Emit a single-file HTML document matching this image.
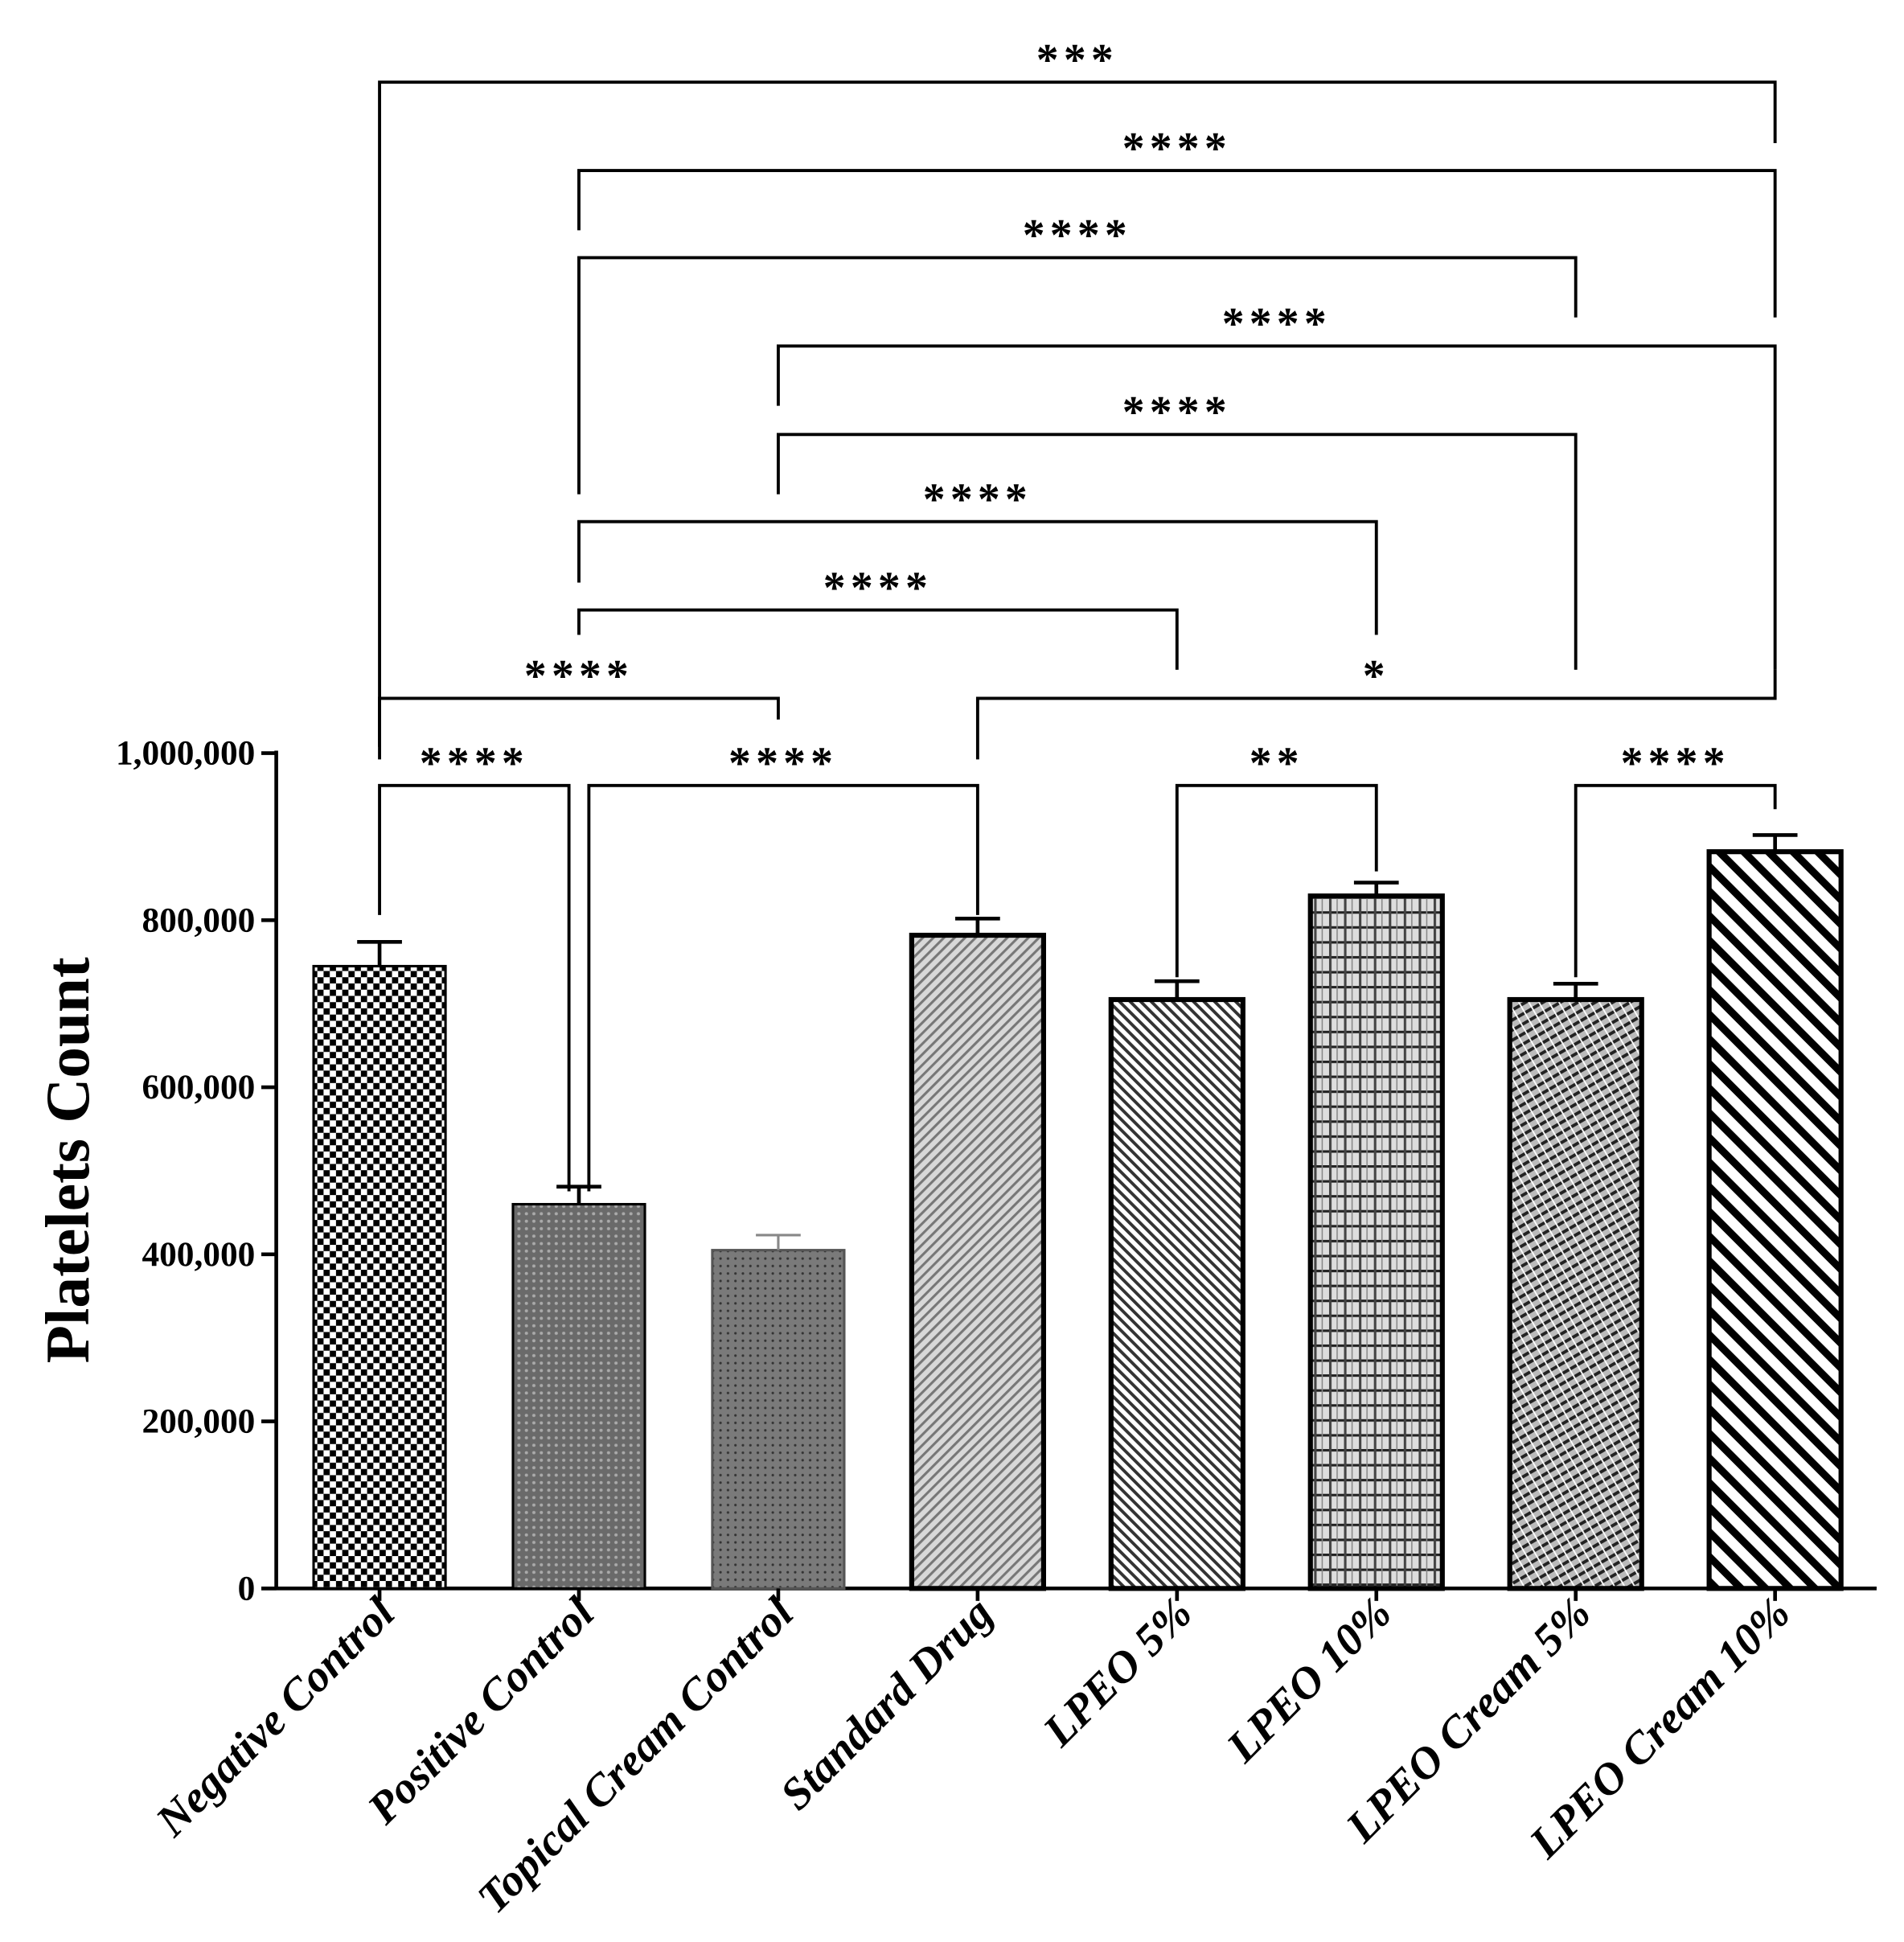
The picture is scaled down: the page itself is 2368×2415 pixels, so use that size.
<!DOCTYPE html>
<html><head><meta charset="utf-8"><style>
html,body{margin:0;padding:0;background:#fff}
svg{display:block}
text{font-family:"Liberation Serif",serif;font-weight:bold;fill:#000}
</style></head><body>
<svg id="chart" xmlns="http://www.w3.org/2000/svg" width="2368" height="2415" viewBox="0 0 1530 1560" preserveAspectRatio="none">
<defs>
<pattern id="p0" width="10" height="10" patternUnits="userSpaceOnUse"><rect width="10" height="10" fill="#fff"/><rect width="5" height="5" fill="#000"/><rect x="5" y="5" width="5" height="5" fill="#000"/></pattern>
<pattern id="p1" width="6" height="6" patternUnits="userSpaceOnUse"><rect width="6" height="6" fill="#6a6a6a"/><circle cx="3" cy="3" r="1.3" fill="#aaa"/></pattern>
<pattern id="p2" width="6" height="6" patternUnits="userSpaceOnUse"><rect width="6" height="6" fill="#7a7a7a"/><circle cx="3" cy="3" r="1" fill="#333"/></pattern>
<pattern id="p3" width="6" height="6" patternUnits="userSpaceOnUse" patternTransform="rotate(45)"><rect width="6" height="6" fill="#d8d8d8"/><rect width="2" height="6" fill="#777"/></pattern>
<pattern id="p4" width="6" height="6" patternUnits="userSpaceOnUse" patternTransform="rotate(-45)"><rect width="6" height="6" fill="#fff"/><rect width="2.5" height="6" fill="#333"/></pattern>
<pattern id="p5" width="12" height="12" patternUnits="userSpaceOnUse"><rect width="12" height="12" fill="#ddd"/><rect width="12" height="2" fill="#222"/><rect width="2" height="12" fill="#444"/><rect x="6" width="1" height="12" fill="#888"/></pattern>
<pattern id="p6" width="7" height="7" patternUnits="userSpaceOnUse" patternTransform="rotate(60)"><rect width="7" height="7" fill="#bbb"/><rect width="2.5" height="7" fill="#222"/><rect y="3" width="7" height="1.2" fill="#fff"/></pattern>
<pattern id="p7" width="14" height="14" patternUnits="userSpaceOnUse" patternTransform="rotate(-45)"><rect width="14" height="14" fill="#fff"/><rect width="6" height="14" fill="#000"/></pattern>
</defs>
<g id="plot"></g>
</svg>
<script>
const categories = ["Negative Control","Positive Control","Topical  Cream Control","Standard Drug","LPEO 5%","LPEO 10%","LPEO Cream 5%","LPEO Cream 10%"];
const means = [745000,460000,405000,782000,705000,829000,705000,882000];
const errors = [29000,21000,18000,20000,22000,16000,19000,20000];
const yTicks = [0,200000,400000,600000,800000,1000000];
const yTickLabels = ["0","200,000","400,000","600,000","800,000","1,000,000"];
const brackets = [ // [fromIdx,toIdx,barY,leftLegEnd,rightLegEnd,label]
 [0,7,66,600,115,"***"],
 [1,7,137,185,255,"****"],
 [1,6,207,397,255,"****"],
 [2,7,278,326,538,"****"],
 [2,6,349,397,538,"****"],
 [1,5,419,468,510,"****"],
 [1,4,490,510,538,"****"],
 [0,2,561,610,578,"****"],
 [3,7,561,610,538,"*"],
 [0,1,631,735,957,"****"],
 [1,3,631,957,735,"****"],
 [4,5,631,785,700,"**"],
 [6,7,631,785,650,"****"]
];
const NS="http://www.w3.org/2000/svg";
const g=document.getElementById('plot');
const x0=305, step=160.2, y0=1276, yTop=605, ymax=1000000;
const xs=i=>x0+i*step;
const ys=v=>y0-(v/ymax)*(y0-yTop);
function mk(t,a){const e=document.createElementNS(NS,t);for(const k in a)e.setAttribute(k,a[k]);g.appendChild(e);return e;}
let e=mk('line',{x1:222,y1:ys(ymax)-2,x2:222,y2:y0+1,stroke:'#000','stroke-width':3});


e=mk('line',{x1:210,y1:y0,x2:1508,y2:y0,stroke:'#000','stroke-width':3});


yTicks.forEach((v,i)=>{
 const t=mk('line',{x1:210,y1:ys(v),x2:222,y2:ys(v),stroke:'#000','stroke-width':3});
 
 
 const l=mk('text',{x:205,y:ys(v)+9,'text-anchor':'end','font-size':28});
 l.textContent=yTickLabels[i];
 
 
});
e=mk('text',{x:0,y:0,'text-anchor':'middle','font-size':50,transform:'translate(71,932) rotate(-90)'});
e.textContent='Platelets Count';


const bw=106;
categories.forEach((c,i)=>{
 const cx=xs(i), top=ys(means[i]), thick=i>=3?4:2;
 const r=mk('rect',{x:cx-bw/2,y:top,width:bw,height:y0-top,fill:'url(#p'+i+')',stroke:i==2?'#555':'#000','stroke-width':thick});
 
 
 const et=ys(means[i]+errors[i]);
 const ev=mk('path',{d:`M${cx},${top} V${et} M${cx-18},${et} H${cx+18}`,stroke:i==2?'#888':'#000','stroke-width':i==2?2:3,fill:'none'});
 
 
 const tk=mk('line',{x1:cx,y1:y0,x2:cx,y2:y0+10,stroke:'#000','stroke-width':3});
 
 
 const l=mk('text',{x:0,y:0,'text-anchor':'end','font-size':36,'font-style':'italic',transform:`translate(${cx+14},${y0+22}) rotate(-45)`});
 l.textContent=c;
 
 
});
brackets.forEach(b=>{
 let xl=xs(b[0]), xr=xs(b[1]);
 if(b[0]==0&&b[1]==1&&b[2]==631){xr-=8;}
 if(b[0]==1&&b[1]==3){xl+=8;}
 const p=mk('path',{d:`M${xl},${b[3]} V${b[2]} H${xr} V${b[4]}`,stroke:'#000','stroke-width':2.5,fill:'none'});
 
 
 const t=mk('text',{x:(xl+xr)/2,y:b[2]-6,'text-anchor':'middle','font-size':36,'letter-spacing':4});
 t.textContent=b[5];
 
 
});
</script>
</body></html>
